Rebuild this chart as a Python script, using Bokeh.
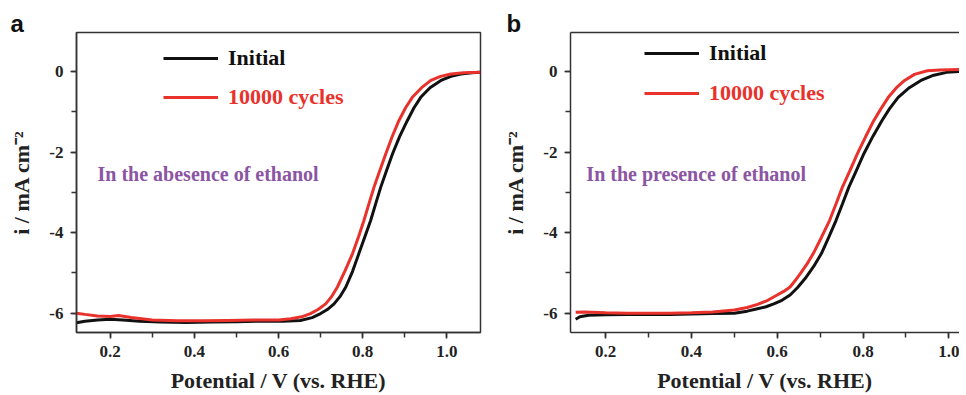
from bokeh.plotting import figure
from bokeh.layouts import row
from bokeh.models import (Label, Legend, LegendItem, SingleIntervalTicker, LinearAxis,
                          PrintfTickFormatter, FixedTicker, Spacer)
from bokeh.embed import file_html
from bokeh.resources import INLINE

# ---------------- data ----------------
# Panel a: in the absence of ethanol
a_init_x = [0.12, 0.14, 0.17, 0.20, 0.23, 0.27, 0.32, 0.38, 0.44, 0.50, 0.56, 0.61, 0.652, 0.68, 0.70,
            0.716, 0.732, 0.746, 0.760, 0.776, 0.791, 0.805, 0.819, 0.831, 0.843, 0.857, 0.871, 0.888,
            0.906, 0.922, 0.938, 0.96, 0.986, 1.01, 1.033, 1.06, 1.08]
a_init_y = [-6.24, -6.20, -6.17, -6.15, -6.17, -6.20, -6.22, -6.23, -6.22, -6.21, -6.20, -6.20, -6.18,
            -6.11, -6.01, -5.91, -5.77, -5.59, -5.35, -4.96, -4.52, -4.11, -3.70, -3.28, -2.87, -2.45,
            -2.04, -1.61, -1.22, -0.90, -0.64, -0.40, -0.22, -0.12, -0.06, -0.03, -0.02]
a_cyc_x = [0.12, 0.14, 0.17, 0.20, 0.22, 0.25, 0.30, 0.36, 0.42, 0.48, 0.54, 0.60, 0.629, 0.655, 0.676,
           0.694, 0.712, 0.726, 0.740, 0.758, 0.776, 0.790, 0.803, 0.815, 0.827, 0.841, 0.855, 0.870,
           0.886, 0.902, 0.918, 0.94, 0.962, 0.985, 1.01, 1.04, 1.08]
a_cyc_y = [-6.00, -6.03, -6.07, -6.08, -6.06, -6.11, -6.17, -6.19, -6.19, -6.18, -6.17, -6.17, -6.14,
           -6.09, -6.01, -5.91, -5.77, -5.59, -5.35, -4.95, -4.52, -4.11, -3.70, -3.28, -2.87, -2.45,
           -2.04, -1.62, -1.22, -0.90, -0.64, -0.40, -0.22, -0.12, -0.06, -0.03, -0.02]

# Panel b: in the presence of ethanol
b_init_x = [0.13, 0.14, 0.16, 0.20, 0.25, 0.30, 0.35, 0.40, 0.45, 0.50, 0.53, 0.554, 0.574, 0.592, 0.611,
            0.630, 0.647, 0.665, 0.685, 0.703, 0.720, 0.737, 0.752, 0.767, 0.785, 0.802, 0.823, 0.844,
            0.862, 0.882, 0.908, 0.935, 0.965, 0.995, 1.025]
b_init_y = [-6.15, -6.09, -6.05, -6.04, -6.03, -6.03, -6.03, -6.02, -6.01, -6.00, -5.95, -5.89, -5.84,
            -5.77, -5.68, -5.55, -5.37, -5.14, -4.84, -4.52, -4.12, -3.70, -3.29, -2.87, -2.45, -2.04,
            -1.61, -1.22, -0.92, -0.64, -0.40, -0.22, -0.09, -0.02, 0.0]
b_cyc_x = [0.13, 0.15, 0.20, 0.25, 0.30, 0.35, 0.40, 0.45, 0.50, 0.53, 0.554, 0.578, 0.60, 0.615, 0.630,
           0.642, 0.655, 0.670, 0.684, 0.703, 0.722, 0.737, 0.752, 0.770, 0.787, 0.806, 0.825, 0.842,
           0.859, 0.878, 0.897, 0.92, 0.95, 0.98, 1.025]
b_cyc_y = [-5.98, -5.97, -5.99, -6.00, -6.00, -6.00, -5.99, -5.97, -5.92, -5.86, -5.78, -5.68, -5.55,
           -5.46, -5.35, -5.19, -5.00, -4.77, -4.52, -4.12, -3.70, -3.29, -2.87, -2.45, -2.04, -1.62,
           -1.22, -0.92, -0.64, -0.40, -0.22, -0.07, 0.02, 0.04, 0.05]

series_labels = ["Initial", "10000 cycles"]
panel_letters = ["a", "b"]
panel_notes = ["In the abesence of ethanol", "In the presence of ethanol"]
x_title = "Potential / V (vs. RHE)"
y_title = "i / mA cm\u207b\u00b2"

BLACK = "#111111"
RED = "#E8322B"
PURPLE = "#8B55A3"
SERIF = "Liberation Serif"
AXIS = "#333333"

Y0, Y1 = -6.48, 0.97


def style_axes(xaxis, yaxis):
    for ax in (xaxis, yaxis):
        ax.axis_line_color = AXIS
        ax.axis_line_width = 1.5
        ax.major_tick_line_color = AXIS
        ax.minor_tick_line_color = AXIS
        ax.major_tick_line_width = 1.5
        ax.minor_tick_line_width = 1.5
        ax.major_tick_out = 6
        ax.major_tick_in = 0
        ax.minor_tick_out = 5
        ax.minor_tick_in = 0
        ax.major_label_text_font = SERIF
        ax.major_label_text_font_style = "bold"
        ax.major_label_text_font_size = "17px"
        ax.major_label_text_color = "#222222"
        ax.axis_label_text_font = SERIF
        ax.axis_label_text_font_style = "bold"
        ax.axis_label_text_font_size = "22px"
        ax.axis_label_text_color = "#222222"
    xaxis.ticker = SingleIntervalTicker(interval=0.2, num_minor_ticks=2)
    yaxis.ticker = SingleIntervalTicker(interval=2, num_minor_ticks=2)
    xaxis.formatter = PrintfTickFormatter(format="%.1f")
    yaxis.formatter = PrintfTickFormatter(format="%d")
    xaxis.axis_label = x_title
    yaxis.axis_label = y_title
    xaxis.major_label_standoff = 7
    xaxis.axis_label_standoff = 8
    yaxis.major_label_standoff = 7
    yaxis.axis_label_standoff = 12


def make_panel(idx, frame_w, x0, x1, mbr, xs, ys, leg_pos, note_x, letter_off, right_frame):
    p = figure(frame_width=frame_w, frame_height=300, x_range=(x0, x1), y_range=(Y0, Y1),
               output_backend="svg", toolbar_location=None,
               min_border_left=0, min_border_right=mbr, min_border_top=32, min_border_bottom=0,
               x_axis_location=None, y_axis_location=None)
    p.xgrid.visible = False
    p.ygrid.visible = False
    p.background_fill_color = "white"
    p.border_fill_color = "white"
    xaxis = LinearAxis()
    yaxis = LinearAxis()
    p.add_layout(xaxis, "below")
    p.add_layout(yaxis, "left")
    style_axes(xaxis, yaxis)
    if right_frame:
        p.outline_line_color = AXIS
        p.outline_line_width = 1.5
    else:
        p.outline_line_color = None
        top = LinearAxis(ticker=FixedTicker(ticks=[]), major_tick_out=0, major_tick_in=0,
                         minor_tick_out=0, minor_tick_in=0,
                         axis_line_color=AXIS, axis_line_width=1.5)
        p.add_layout(top, "above")

    p.title.text = panel_letters[idx]
    p.title.text_font = "Liberation Sans"
    p.title.text_font_style = "bold"
    p.title.text_font_size = "24px"
    p.title.text_color = "#111111"
    p.title.align = "left"
    p.title.offset = letter_off
    p.title.standoff = -8

    r_init = p.line(xs[0], ys[0], line_color=BLACK, line_width=3)
    r_cyc = p.line(xs[1], ys[1], line_color=RED, line_width=3)

    for k, (r, col) in enumerate([(r_init, BLACK), (r_cyc, RED)]):
        leg = Legend(items=[LegendItem(label=series_labels[k], renderers=[r])],
                     location=leg_pos[k], border_line_color=None, background_fill_alpha=0,
                     padding=0, margin=0, spacing=0, glyph_width=55, glyph_height=26,
                     label_height=26, label_standoff=10,
                     label_text_font=SERIF, label_text_font_style="bold",
                     label_text_font_size="22px", label_text_color=col)
        p.add_layout(leg)

    p.add_layout(Label(x=note_x, y=-2.556, text=panel_notes[idx], text_font=SERIF,
                       text_font_style="bold", text_font_size="20px", text_color=PURPLE,
                       text_baseline="middle"))
    return p


pa = make_panel(0, 404, 0.12, 1.08, 20, (a_init_x, a_cyc_x), (a_init_y, a_cyc_y),
                [(87, 261), (87, 222)], 0.17, -66, True)
pb = make_panel(1, 389, 0.118, 1.025, 0, (b_init_x, b_cyc_x), (b_init_y, b_cyc_y),
                [(74, 266), (74, 226)], 0.155, -64, False)

layout = row(Spacer(width=6, height=10), pa, pb)
open("out.html", "w").write(file_html(layout, INLINE))
